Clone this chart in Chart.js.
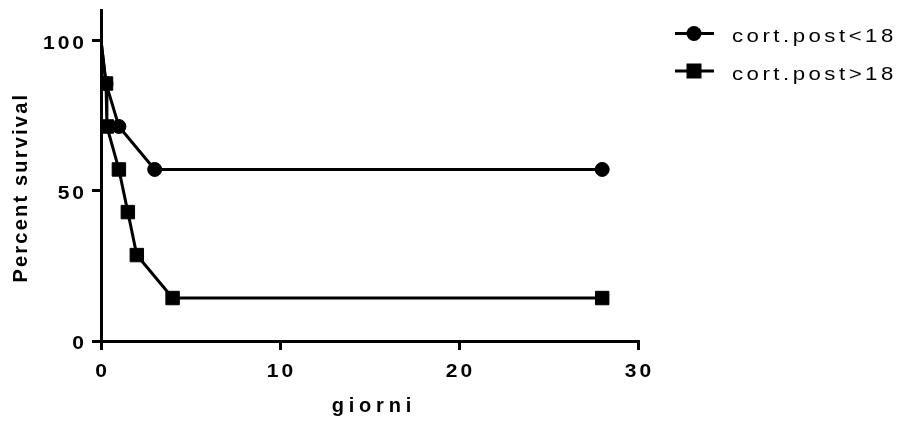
<!DOCTYPE html>
<html><head><meta charset="utf-8">
<script src="https://cdn.jsdelivr.net/npm/chart.js@4.4.1/dist/chart.umd.min.js"></script>
<style>html,body{margin:0;padding:0;background:#fff}</style>
</head><body>
<canvas id="c" width="901" height="423"></canvas>
<script>
const seriesNames = ['cort.post<18', 'cort.post>18'];
const lowDays = [0, 0.28, 1, 3, 28];
const lowSurvival = [100, 85.7, 71.4, 57.1, 57.1];
const highDays = [0, 0.28, 0.33, 1, 1.5, 2, 4, 28];
const highSurvival = [100, 85.7, 71.4, 57.1, 42.9, 28.6, 14.3, 14.3];
const xTicks = [0, 10, 20, 30];
const yTicks = [0, 50, 100];
const xTitle = 'giorni';
const yTitle = 'Percent survival';

const FONT = "'Liberation Sans', Arial, sans-serif";
function pts(xs, ys) { return xs.map((x, i) => ({ x: x, y: ys[i] })); }
function radii(n, r) { return Array.from({ length: n }, (_, i) => i === 0 ? 0 : r); }

function drawText(ctx, text, x, y, o) {
  const sx = o.sx || 1;
  ctx.save();
  ctx.translate(x, y);
  if (o.rotate) ctx.rotate(o.rotate);
  ctx.scale(sx, 1);
  ctx.font = o.font;
  ctx.fillStyle = '#000';
  ctx.textBaseline = 'alphabetic';
  ctx.textAlign = 'left';
  const sp = (o.spacing || 0) / sx;
  ctx.letterSpacing = sp + 'px';
  const w = ctx.measureText(text).width - sp;
  let dx = 0;
  if (o.align === 'center') dx = -w / 2;
  else if (o.align === 'right') dx = -w;
  ctx.fillText(text, dx, 0);
  ctx.restore();
}

const textPlugin = {
  id: 'texts',
  afterDraw(chart) {
    const ctx = chart.ctx;
    const xs = chart.scales.x, ys = chart.scales.y;
    const tickFont = 'bold 17.5px ' + FONT;
    yTicks.forEach(v => {
      drawText(ctx, String(v), 84, ys.getPixelForValue(v) + 8, { font: tickFont, sx: 1.2, spacing: 3, align: 'right' });
    });
    xTicks.forEach(v => {
      drawText(ctx, String(v), xs.getPixelForValue(v), 377, { font: tickFont, sx: 1.2, spacing: 3, align: 'center' });
    });
    const ca = chart.chartArea;
    drawText(ctx, xTitle, (ca.left + ca.right) / 2 + 2, 411.5, { font: 'bold 20px ' + FONT, spacing: 4.8, align: 'center' });
    drawText(ctx, yTitle, 26.5, (ca.top + ca.bottom) / 2 + 13, { font: 'bold 20px ' + FONT, spacing: 2.2, align: 'center', rotate: -Math.PI / 2 });

    // legend
    const rows = [
      { name: seriesNames[0], style: 'circle', my: 33.5, ty: 41.7 },
      { name: seriesNames[1], style: 'rect', my: 71, ty: 79.5 }
    ];
    ctx.save();
    rows.forEach(r => {
      ctx.strokeStyle = '#000';
      ctx.fillStyle = '#000';
      ctx.lineWidth = 3;
      ctx.beginPath();
      ctx.moveTo(675, r.my);
      ctx.lineTo(714, r.my);
      ctx.stroke();
      ctx.beginPath();
      if (r.style === 'circle') ctx.arc(694, r.my, 7.5, 0, Math.PI * 2);
      else ctx.rect(686.5, r.my - 7.5, 15, 15);
      ctx.fill();
      drawText(ctx, r.name, 732, r.ty, { font: '18.5px ' + FONT, sx: 1.2, spacing: 3.5, align: 'left' });
    });
    ctx.restore();
  }
};

const common = {
  showLine: true,
  borderColor: '#000',
  backgroundColor: '#000',
  pointBorderColor: '#000',
  pointBackgroundColor: '#000',
  borderWidth: 3,
  pointBorderWidth: 1,
  tension: 0
};

const axisCommon = {
  type: 'linear',
  border: { color: '#000', width: 3 },
  grid: { drawOnChartArea: false, color: '#000', tickColor: '#000', tickLength: 9, tickWidth: 3, lineWidth: 3 },
  ticks: { display: false },
  title: { display: false }
};

new Chart(document.getElementById('c'), {
  type: 'scatter',
  data: {
    datasets: [
      Object.assign({}, common, {
        label: seriesNames[1],
        data: pts(highDays, highSurvival),
        pointStyle: 'rect',
        pointRadius: radii(highDays.length, 9.5),
        order: 0
      }),
      Object.assign({}, common, {
        label: seriesNames[0],
        data: pts(lowDays, lowSurvival),
        pointStyle: 'circle',
        pointRadius: radii(lowDays.length, 7),
        order: 1
      })
    ]
  },
  options: {
    responsive: false,
    animation: false,
    events: [],
    layout: { padding: { left: 0, top: 8, right: 263, bottom: 0 } },
    plugins: { legend: { display: false }, tooltip: { enabled: false } },
    scales: {
      x: Object.assign({}, axisCommon, {
        min: 0, max: 30,
        afterBuildTicks: s => { s.ticks = xTicks.map(v => ({ value: v })); },
        afterFit: s => { s.height = 82; }
      }),
      y: Object.assign({}, axisCommon, {
        min: 0, max: 110,
        afterBuildTicks: s => { s.ticks = yTicks.map(v => ({ value: v })); },
        afterFit: s => { s.width = 101; }
      })
    }
  },
  plugins: [textPlugin]
});
</script>
</body></html>
